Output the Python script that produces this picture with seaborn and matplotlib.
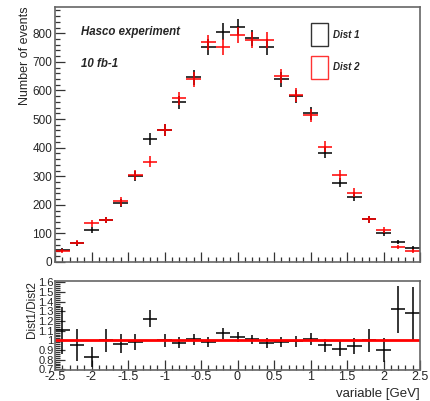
import numpy as np
import pandas as pd
import matplotlib
matplotlib.use("Agg")
import matplotlib.pyplot as plt
from matplotlib.ticker import MultipleLocator
from matplotlib.patches import Rectangle
import seaborn as sns

# ---- data ----
bin_centers = [-2.4, -2.2, -2.0, -1.8, -1.6, -1.4, -1.2, -1.0, -0.8, -0.6, -0.4, -0.2,
               0.0, 0.2, 0.4, 0.6, 0.8, 1.0, 1.2, 1.4, 1.6, 1.8, 2.0, 2.2, 2.4]
dist1 = [43, 65, 112, 147, 205, 300, 429, 462, 558, 646, 752, 806,
         822, 785, 752, 639, 579, 520, 383, 278, 229, 149, 100, 70, 50]
dist2 = [39, 68, 135, 147, 212, 305, 351, 462, 572, 639, 768, 752,
         795, 778, 775, 651, 585, 514, 404, 304, 243, 149, 111, 53, 39]
bin_half_width = 0.1
x_ticks = [-2.5, -2, -1.5, -1, -0.5, 0, 0.5, 1, 1.5, 2, 2.5]
x_tick_labels = ["-2.5", "-2", "-1.5", "-1", "-0.5", "0", "0.5", "1", "1.5", "2", "2.5"]
ratio_ticks = [0.7, 0.8, 0.9, 1.0, 1.1, 1.2, 1.3, 1.4, 1.5, 1.6]
ratio_tick_labels = ["0.7", "0.8", "0.9", "1", "1.1", "1.2", "1.3", "1.4", "1.5", "1.6"]

sns.set_theme(style="white")
plt.rcParams['font.family'] = ['Liberation Sans', 'DejaVu Sans']

x = np.array(bin_centers)
d1 = np.array(dist1, dtype=float)
d2 = np.array(dist2, dtype=float)
ratio = d1 / d2
ratio_err = ratio * np.sqrt(1 / d1 + 1 / d2)

fig = plt.figure(figsize=(4.30, 4.01), dpi=100)
ax = fig.add_axes([55/430, 1-262/401, 365/430, (262-6.7)/401])
axr = fig.add_axes([55/430, 1-370/401, 365/430, (370-280.7)/401])

frame_col = "#666666"
for a in (ax, axr):
    for s in a.spines.values():
        s.set_color(frame_col)
        s.set_linewidth(1.2)
    a.set_xlim(-2.5, 2.5)
    a.xaxis.set_major_locator(MultipleLocator(0.5))
    a.xaxis.set_minor_locator(MultipleLocator(0.1))
    a.tick_params(axis='both', which='both', direction='in', color='#333333',
                  top=False, right=False, bottom=True, left=True)
    a.tick_params(which='major', length=7, width=0.9)
    a.tick_params(which='minor', length=3.5, width=0.9)

# upper panel
ax.errorbar(x, d1, xerr=bin_half_width, yerr=np.sqrt(d1), fmt='none',
            ecolor='black', elinewidth=1.1, capsize=0)
ax.errorbar(x, d2, xerr=bin_half_width, yerr=np.sqrt(d2), fmt='none',
            ecolor='#ff0000', elinewidth=1.1, capsize=0)
ax.set_ylim(0, 893)
ax.yaxis.set_major_locator(MultipleLocator(100))
ax.yaxis.set_minor_locator(MultipleLocator(20))
ax.set_xticklabels([])
ax.tick_params(axis='y', labelsize=8.5, pad=2)
ax.set_ylabel("Number of events", fontsize=9, loc='top', labelpad=1)

ax.text((81-55)/365, 1-(32-6.7)/255.3, "Hasco experiment", transform=ax.transAxes,
        fontsize=8.3, fontweight='bold', style='italic', va='center', ha='left')
ax.text((81-55)/365, 1-(64-6.7)/255.3, "10 fb-1", transform=ax.transAxes,
        fontsize=8.3, fontweight='bold', style='italic', va='center', ha='left')

# legend boxes
for (y0, y1, col, lab) in [(23, 46, 'black', 'Dist 1'), (56, 79, '#ff0000', 'Dist 2')]:
    xa = (311-55)/365
    ya = 1-(y1-6.7)/255.3
    ax.add_patch(Rectangle((xa, ya), 17/365, (y1-y0)/255.3, transform=ax.transAxes,
                           fill=False, edgecolor=col, linewidth=1.0, alpha=0.8))
    ax.text((333-55)/365, 1-((y0+y1)/2-6.7)/255.3, lab, transform=ax.transAxes,
            fontsize=7, fontweight='bold', style='italic', va='center', ha='left')

# ratio panel
axr.errorbar(x, ratio, xerr=bin_half_width, yerr=ratio_err, fmt='none',
             ecolor='black', elinewidth=1.1, capsize=0)
line_df = pd.DataFrame({"x": [-2.5, 2.5], "y": [1.0, 1.0]})
sns.lineplot(data=line_df, x="x", y="y", ax=axr, color='#ff0000', linewidth=2)
axr.set_ylim(0.693, 1.617)
axr.set_yticks(ratio_ticks)
axr.set_yticklabels(ratio_tick_labels)
axr.yaxis.set_minor_locator(MultipleLocator(0.02))
axr.set_xticks(x_ticks)
axr.set_xticklabels(x_tick_labels)
axr.tick_params(axis='x', labelsize=9, pad=1)
axr.tick_params(axis='y', labelsize=8, pad=1)
axr.set_ylabel("Dist1/Dist2", fontsize=8.5, loc='top', labelpad=0)
axr.set_xlabel("variable [GeV]", fontsize=9.5, loc='right', labelpad=3)

fig.savefig("out.png", dpi=100)
